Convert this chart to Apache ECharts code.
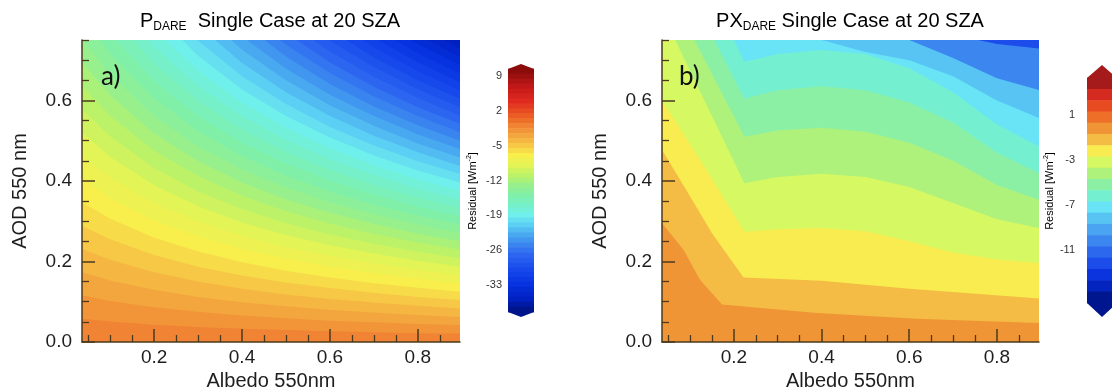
<!DOCTYPE html>
<html><head><meta charset="utf-8">
<script src="https://cdn.jsdelivr.net/npm/echarts@6/dist/echarts.min.js"></script>
<style>html,body{margin:0;padding:0;background:#fff}#c{width:1112px;height:389px}</style>
</head><body><div id="c"></div>
<script>
// ================= DATA =================
const albedoRange = [0.036, 0.896];
const aodRange = [0, 0.75];
const xTickLabels = [0.2, 0.4, 0.6, 0.8];
const xMinorTicks = [0.05, 0.1, 0.15, 0.25, 0.3, 0.35, 0.45, 0.5, 0.55, 0.65, 0.7, 0.75, 0.85];
const yTickLabels = [0.0, 0.2, 0.4, 0.6];
const yMinorTicks = [0.05, 0.1, 0.15, 0.25, 0.3, 0.35, 0.45, 0.5, 0.55, 0.65, 0.7, 0.75];

// Panel a) residual contour bands: AOD of each band's upper edge at these albedos.
// Band k (k = 1..36) lies below row k-1 and has residual value -k W m-2.
const aAlbedo = [0.036, 0.1, 0.2, 0.3, 0.4, 0.5, 0.6, 0.7, 0.8, 0.896];
const aBandValues = [-1,-2,-3,-4,-5,-6,-7,-8,-9,-10,-11,-12,-13,-14,-15,-16,-17,-18,-19,-20,-21,-22,-23,-24,-25,-26,-27,-28,-29,-30,-31,-32,-33,-34,-35,-36];
const aTopValue = -37;
const aBoundaries = [
 [0.058,0.051,0.043,0.037,0.033,0.030,0.027,0.024,0.022,0.021],
 [0.116,0.102,0.086,0.075,0.066,0.059,0.053,0.049,0.045,0.042],
 [0.173,0.153,0.130,0.112,0.099,0.089,0.080,0.073,0.067,0.062],
 [0.231,0.204,0.173,0.150,0.132,0.118,0.107,0.098,0.090,0.083],
 [0.289,0.255,0.216,0.187,0.165,0.148,0.134,0.122,0.112,0.104],
 [0.347,0.306,0.259,0.225,0.198,0.177,0.160,0.146,0.135,0.125],
 [0.405,0.357,0.302,0.262,0.231,0.207,0.187,0.171,0.157,0.146],
 [0.462,0.408,0.346,0.299,0.264,0.236,0.214,0.195,0.179,0.167],
 [0.520,0.460,0.389,0.337,0.297,0.266,0.240,0.220,0.202,0.187],
 [0.578,0.511,0.432,0.374,0.330,0.295,0.267,0.244,0.224,0.208],
 [0.636,0.562,0.475,0.412,0.363,0.325,0.294,0.268,0.247,0.229],
 [0.694,0.613,0.518,0.449,0.396,0.354,0.321,0.293,0.269,0.250],
 [0.751,0.664,0.561,0.486,0.429,0.384,0.347,0.317,0.292,0.271],
 [0.809,0.715,0.605,0.524,0.462,0.413,0.374,0.341,0.314,0.292],
 [0.867,0.766,0.648,0.561,0.495,0.443,0.401,0.366,0.336,0.312],
 [0.925,0.817,0.691,0.599,0.528,0.472,0.427,0.390,0.359,0.333],
 [0.983,0.868,0.734,0.636,0.561,0.502,0.454,0.415,0.381,0.354],
 [1.040,0.919,0.777,0.674,0.594,0.532,0.481,0.439,0.404,0.375],
 [1.098,0.970,0.821,0.711,0.627,0.561,0.508,0.463,0.426,0.396],
 [1.156,1.021,0.864,0.748,0.660,0.591,0.534,0.488,0.449,0.417],
 [1.214,1.072,0.907,0.786,0.693,0.620,0.561,0.512,0.471,0.437],
 [1.272,1.123,0.950,0.823,0.726,0.650,0.588,0.537,0.493,0.458],
 [1.329,1.174,0.993,0.861,0.759,0.679,0.614,0.561,0.516,0.479],
 [1.387,1.225,1.037,0.898,0.792,0.709,0.641,0.585,0.538,0.500],
 [1.445,1.277,1.080,0.936,0.825,0.738,0.668,0.610,0.561,0.521],
 [1.503,1.328,1.123,0.973,0.858,0.768,0.694,0.634,0.583,0.542],
 [1.561,1.379,1.166,1.010,0.891,0.797,0.721,0.659,0.606,0.562],
 [1.618,1.430,1.209,1.048,0.924,0.827,0.748,0.683,0.628,0.583],
 [1.676,1.481,1.253,1.085,0.957,0.856,0.775,0.707,0.650,0.604],
 [1.734,1.532,1.296,1.123,0.990,0.886,0.801,0.732,0.673,0.625],
 [1.792,1.583,1.339,1.160,1.023,0.915,0.828,0.756,0.695,0.646],
 [1.850,1.634,1.382,1.197,1.056,0.945,0.855,0.780,0.718,0.667],
 [1.907,1.685,1.425,1.235,1.089,0.974,0.881,0.805,0.740,0.687],
 [1.965,1.736,1.468,1.272,1.122,1.004,0.908,0.829,0.763,0.708],
 [2.023,1.787,1.512,1.310,1.155,1.034,0.935,0.854,0.785,0.729],
 [2.081,1.838,1.555,1.347,1.188,1.063,0.962,0.878,0.807,0.750]
];
const aColorbarTicks = [9, 2, -5, -12, -19, -26, -33];
const aColorbarRange = [-38.5, 10.5];
const aColorbarValues = [10,9,8,7,6,5,4,3,2,1,0,-1,-2,-3,-4,-5,-6,-7,-8,-9,-10,-11,-12,-13,-14,-15,-16,-17,-18,-19,-20,-21,-22,-23,-24,-25,-26,-27,-28,-29,-30,-31,-32,-33,-34,-35,-36,-37,-38];

// Panel b) contour band upper edges as [albedo, AOD] polylines (bottom band first)
const bBandValues = [0, -1, -2, -3, -4, -5, -6, -7, -8, -10];
const bTopValue = -12;
const bBoundaries = [
 [[0.036,0.295],[0.085,0.229],[0.123,0.154],[0.173,0.093],[0.39,0.072],[0.617,0.058],[0.896,0.047]],
 [[0.036,0.477],[0.09,0.38],[0.15,0.27],[0.222,0.16],[0.4,0.152],[0.6,0.132],[0.896,0.108]],
 [[0.036,0.60],[0.13,0.44],[0.224,0.274],[0.3,0.28],[0.4,0.283],[0.5,0.275],[0.6,0.25],[0.7,0.222],[0.8,0.205],[0.896,0.196]],
 [[0.036,0.818],[0.224,0.394],[0.3,0.41],[0.4,0.418],[0.5,0.41],[0.6,0.385],[0.7,0.345],[0.8,0.305],[0.896,0.283]],
 [[0.036,0.905],[0.224,0.51],[0.3,0.525],[0.4,0.532],[0.5,0.522],[0.6,0.495],[0.7,0.45],[0.8,0.39],[0.896,0.353]],
 [[0.036,1.0],[0.224,0.605],[0.3,0.625],[0.4,0.635],[0.5,0.625],[0.6,0.595],[0.7,0.545],[0.8,0.47],[0.896,0.42]],
 [[0.036,1.12],[0.224,0.696],[0.3,0.715],[0.4,0.725],[0.5,0.715],[0.6,0.68],[0.7,0.62],[0.8,0.54],[0.896,0.486]],
 [[0.036,1.3],[0.3,0.85],[0.4,0.75],[0.5,0.72],[0.6,0.70],[0.7,0.66],[0.8,0.6],[0.896,0.556]],
 [[0.036,1.4],[0.5,0.85],[0.6,0.75],[0.7,0.705],[0.8,0.655],[0.896,0.626]],
 [[0.036,1.5],[0.7,0.8],[0.757,0.75],[0.8,0.74],[0.896,0.729]]
];
const bColorbarTicks = [1, -3, -7, -11];
const bColorbarRange = [-15.7, 4.3];
const bColorbarValues = [4,3,2,1,0,-1,-2,-3,-4,-5,-6,-7,-8,-9,-10,-11,-12,-13,-14,-15];

// ================= STYLE =================
const FONT = '"Liberation Sans", Arial, sans-serif';
const AXIS = '#4b3a1e';
const TXT = '#1e1e1e';
const cmapStopsA = [
 [10,'#8c0c0c'],[7,'#c01818'],[4,'#e02a20'],[2,'#e84a22'],[0,'#ee7028'],[-1,'#f08434'],
 [-3,'#f3a63e'],[-5,'#f6c846'],[-7,'#f8ee4c'],[-9,'#e2f456'],[-11,'#bcf268'],[-13,'#98f08c'],
 [-15,'#80f0a8'],[-17,'#76f0c8'],[-19,'#70f0ec'],[-21,'#5cd0f4'],[-23,'#48a8f0'],[-25,'#3a84f0'],
 [-27,'#2c66f0'],[-30,'#1648ec'],[-33,'#0632e0'],[-36,'#0020c0'],[-38,'#00148c']];
const cmapB = {4:'#a51a1a',3:'#d42a20',2:'#e84a22',1:'#ee7028',0:'#f09535',
 '-1':'#f4bc44','-2':'#f8ec50','-3':'#d6f862','-4':'#aef27c','-5':'#8cf0a4','-6':'#74f0d0',
 '-7':'#68e4f6','-8':'#58c4f4','-9':'#4aa4f2','-10':'#3c86f0','-11':'#2c68ee','-12':'#1c4cea',
 '-13':'#0c34de','-14':'#0424c0','-15':'#00168e'};
function hex2rgb(h){return [parseInt(h.substr(1,2),16),parseInt(h.substr(3,2),16),parseInt(h.substr(5,2),16)];}
function cmapA(v){
  const s = cmapStopsA;
  if (v >= s[0][0]) return s[0][1];
  for (let i=1;i<s.length;i++){
    if (v >= s[i][0]){
      const t = (v - s[i][0])/(s[i-1][0]-s[i][0]);
      const a = hex2rgb(s[i][1]), b = hex2rgb(s[i-1][1]);
      return 'rgb('+a.map((c,j)=>Math.round(c+(b[j]-c)*t)).join(',')+')';
    }
  }
  return s[s.length-1][1];
}
function colB(v){ return cmapB[String(v)]; }

const gridA = {left:82, top:40, width:378, height:302};
const gridB = {left:662, top:40, width:377, height:302};

function mainX(gi, name){
  return {type:'value', gridIndex:gi, z:10, min:albedoRange[0], max:albedoRange[1], position:'bottom',
    axisLine:{show:true, lineStyle:{color:AXIS, width:1.5}},
    axisTick:{show:true, inside:true, length:13, customValues:xTickLabels, lineStyle:{color:AXIS, width:1.5}},
    axisLabel:{customValues:xTickLabels, fontSize:19, color:TXT, fontFamily:FONT, margin:6, formatter:v=>v.toFixed(1)},
    splitLine:{show:false},
    name:name, nameLocation:'middle', nameGap:22, nameTextStyle:{fontSize:20, color:TXT, fontFamily:FONT}};
}
function minorX(gi){
  return {type:'value', gridIndex:gi, z:10, min:albedoRange[0], max:albedoRange[1], position:'bottom',
    axisLine:{show:false}, axisTick:{show:true, inside:true, length:7, customValues:xMinorTicks, lineStyle:{color:AXIS, width:1.3}},
    axisLabel:{show:false}, splitLine:{show:false}};
}
function mainY(gi, name){
  return {type:'value', gridIndex:gi, z:10, min:aodRange[0], max:aodRange[1], position:'left',
    axisLine:{show:true, lineStyle:{color:AXIS, width:1.5}},
    axisTick:{show:true, inside:true, length:13, customValues:yTickLabels, lineStyle:{color:AXIS, width:1.5}},
    axisLabel:{customValues:yTickLabels, fontSize:19, color:TXT, fontFamily:FONT, margin:10, formatter:v=>v.toFixed(1)},
    splitLine:{show:false},
    name:name, nameLocation:'middle', nameGap:52, nameTextStyle:{fontSize:20, color:TXT, fontFamily:FONT}};
}
function minorY(gi){
  return {type:'value', gridIndex:gi, z:10, min:aodRange[0], max:aodRange[1], position:'left',
    axisLine:{show:false}, axisTick:{show:true, inside:true, length:7, customValues:yMinorTicks, lineStyle:{color:AXIS, width:1.3}},
    axisLabel:{show:false}, splitLine:{show:false}};
}

const series = [];
for (let k = aBoundaries.length-1; k >= 0; k--) {
  series.push({type:'line', xAxisIndex:0, yAxisIndex:0, silent:true, symbol:'none', clip:true, z:1,
    data: aAlbedo.map((x,j)=>[x, aBoundaries[k][j]]),
    lineStyle:{width:0, opacity:0}, areaStyle:{color:cmapA(aBandValues[k]), opacity:1, origin:'start'}, animation:false});
}
for (let k = bBoundaries.length-1; k >= 0; k--) {
  series.push({type:'line', xAxisIndex:2, yAxisIndex:2, silent:true, symbol:'none', clip:true, z:1,
    data: bBoundaries[k],
    lineStyle:{width:0, opacity:0}, areaStyle:{color:colB(bBandValues[k]), opacity:1, origin:'start'}, animation:false});
}
function cbRect(colorFn, lo){ return function(params, api){
  const v = api.value(0);
  const p0 = api.coord([0, v+1+lo]); const p1 = api.coord([1, v+lo]);
  return {type:'rect', shape:{x:p0[0], y:p0[1]-0.3, width:p1[0]-p0[0], height:p1[1]-p0[1]+0.6}, style:{fill:colorFn(v)}};
};}
function cbArrow(colorFn){ return function(params, api){
  const base = api.value(0), tip = api.value(1), v = api.value(2);
  const a = api.coord([0, base]), b = api.coord([1, base]), c = api.coord([0.5, tip]);
  return {type:'polygon', shape:{points:[a,b,c]}, style:{fill:colorFn(v)}};
};}
series.push({type:'custom', xAxisIndex:4, yAxisIndex:4, silent:true, renderItem:cbRect(cmapA,-0.5),
  data:aColorbarValues.map(v=>[v]), animation:false});
series.push({type:'custom', xAxisIndex:4, yAxisIndex:4, silent:true, renderItem:cbArrow(cmapA),
  data:[[aColorbarRange[1], aColorbarRange[1]+1.0, 10],[aColorbarRange[0], aColorbarRange[0]-1.0, -38]], animation:false});
series.push({type:'custom', xAxisIndex:5, yAxisIndex:5, silent:true, renderItem:cbRect(colB,-0.7),
  data:bColorbarValues.map(v=>[v]), animation:false});
series.push({type:'custom', xAxisIndex:5, yAxisIndex:5, silent:true, renderItem:cbArrow(colB),
  data:[[bColorbarRange[1], bColorbarRange[1]+1.15, 4],[bColorbarRange[0], bColorbarRange[0]-1.25, -15]], animation:false});

function cbY(gi, range, ticks, margin){
  return {type:'value', gridIndex:gi, min:range[0], max:range[1], position:'left',
    axisLine:{show:false}, axisTick:{show:false}, splitLine:{show:false},
    axisLabel:{customValues:ticks, fontSize:11, color:'#333', fontFamily:FONT, margin:margin}};
}
function cbX(gi){ return {type:'value', gridIndex:gi, min:0, max:1, show:false}; }

const titleRich = {
  p:{fontSize:20, fontFamily:FONT, color:TXT, lineHeight:24},
  s:{fontSize:12, fontFamily:FONT, color:TXT, lineHeight:8, verticalAlign:'bottom'}
};
const resRich = {
  t:{fontSize:11, fontFamily:FONT, color:'#333', lineHeight:14},
  u:{fontSize:7, fontFamily:FONT, color:'#333', lineHeight:6, verticalAlign:'top'}
};
const gb = {outerBoundsMode:'none', containLabel:false};

const option = {
  backgroundColor:'#ffffff',
  animation:false,
  grid:[
    Object.assign({show:true, backgroundColor:cmapA(aTopValue), borderWidth:0}, gb, gridA),
    Object.assign({show:true, backgroundColor:colB(bTopValue), borderWidth:0}, gb, gridB),
    Object.assign({left:508, top:69, width:26, height:243}, gb),
    Object.assign({left:1087, top:78, width:30, height:225}, gb)
  ],
  xAxis:[mainX(0,'Albedo 550nm'), minorX(0), mainX(1,'Albedo 550nm'), minorX(1), cbX(2), cbX(3)],
  yAxis:[mainY(0,'AOD 550 nm'), minorY(0), mainY(1,'AOD 550 nm'), minorY(1),
         cbY(2, aColorbarRange, aColorbarTicks, 6), cbY(3, bColorbarRange, bColorbarTicks, 12)],
  series: series,
  graphic:[
    {type:'text', x:270, y:21, style:{text:'{p|P}{s|DARE}{p|  Single Case at 20 SZA}', rich:titleRich, align:'center', verticalAlign:'middle'}},
    {type:'text', x:850, y:21, style:{text:'{p|PX}{s|DARE}{p| Single Case at 20 SZA}', rich:titleRich, align:'center', verticalAlign:'middle'}},
    {type:'text', x:101, y:77, z:50, style:{text:'a)', fontSize:26, fontFamily:'Lato, "Open Sans", sans-serif', fill:'#111', align:'left', verticalAlign:'middle'}},
    {type:'text', x:679, y:77, z:50, style:{text:'b)', fontSize:26, fontFamily:'Lato, "Open Sans", sans-serif', fill:'#111', align:'left', verticalAlign:'middle'}},
    {type:'text', x:473, y:191, rotation:Math.PI/2, style:{text:'{t|Residual [Wm}{u|-2}{t|]}', rich:resRich, align:'center', verticalAlign:'middle'}},
    {type:'text', x:1050, y:191, rotation:Math.PI/2, style:{text:'{t|Residual [Wm}{u|-2}{t|]}', rich:resRich, align:'center', verticalAlign:'middle'}}
  ]
};
const chart = echarts.init(document.getElementById('c'), null, {renderer:'canvas'});
chart.setOption(option);
</script></body></html>
